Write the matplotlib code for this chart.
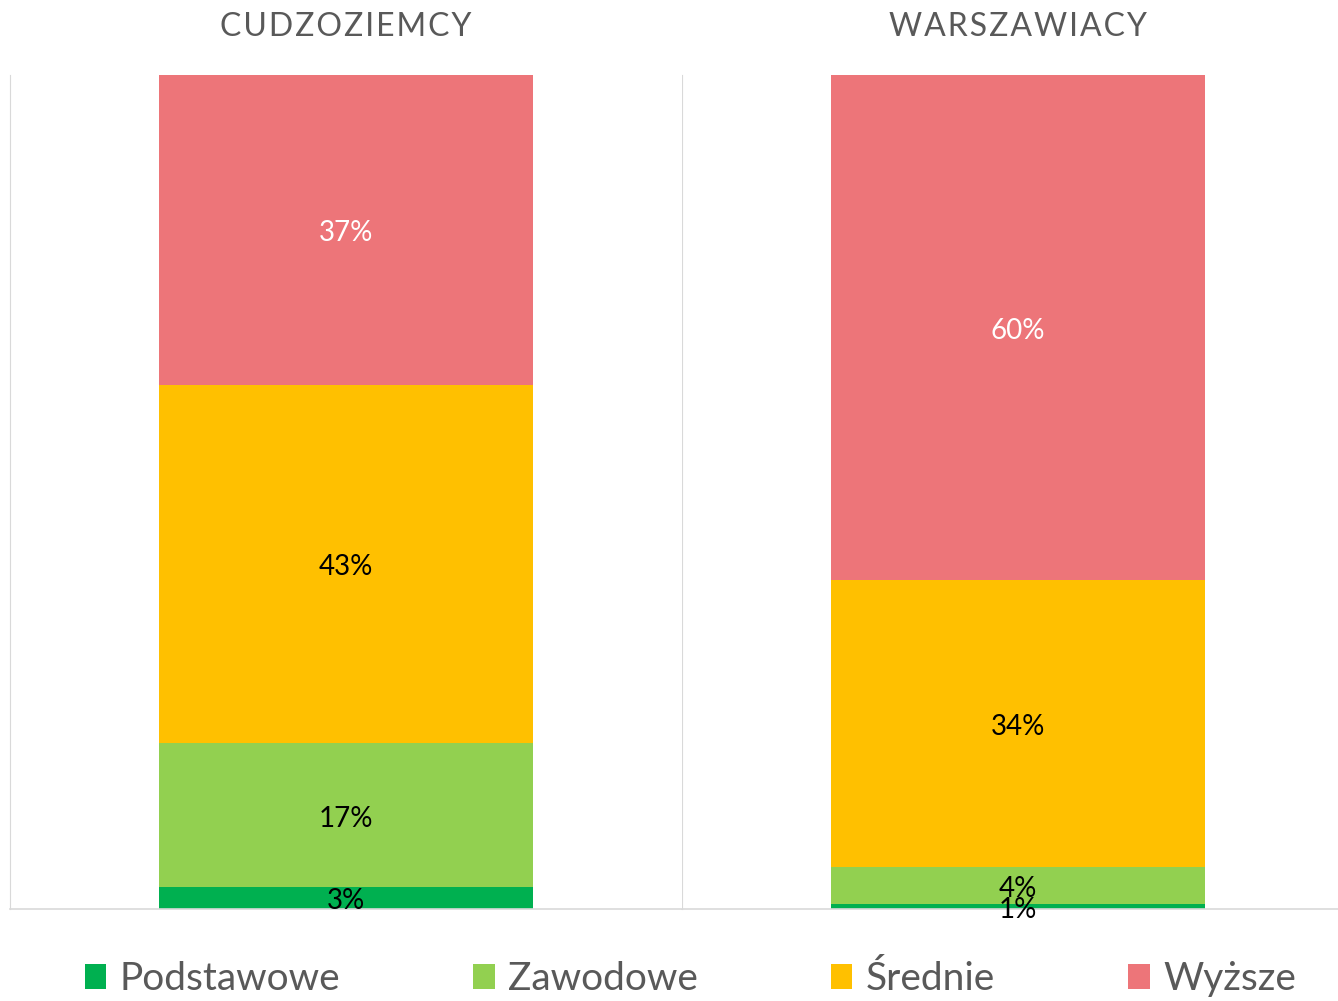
import numpy as np
import matplotlib.pyplot as plt

plt.rcParams['font.family'] = ['Lato', 'DejaVu Sans']

# dane
grupy = ['CUDZOZIEMCY', 'WARSZAWIACY']
poziomy = ['Podstawowe', 'Zawodowe', 'Średnie', 'Wyższe']
kolory = ['#00B050', '#92D050', '#FFC000', '#ED7579']
cudzoziemcy = [2.6, 17.3, 42.9, 37.2]
warszawiacy = [0.6, 4.4, 34.4, 60.4]
dane = [cudzoziemcy, warszawiacy]

fig = plt.figure(figsize=(13.38, 10.01), dpi=100)
W, H = 1338, 1001
szer_px = 672
lewe = [10, 682]
gora, dol = 75, 909

for i, (grupa, wartosci) in enumerate(zip(grupy, dane)):
    ax = fig.add_axes([lewe[i] / W, 1 - dol / H, szer_px / W, (dol - gora) / H])
    suma = sum(wartosci)
    spod = 0
    for j, (v, kol) in enumerate(zip(wartosci, kolory)):
        ax.bar(0, v, width=0.558, bottom=spod, color=kol, label=poziomy[j] if i == 0 else None)
        kolor_txt = 'white' if j == 3 else 'black'
        ax.text(0, spod + v / 2 - suma * 0.004, f"{v:.0f}%", ha='center', va='center',
                fontsize=20, color=kolor_txt)
        spod += v
    ax.set_xlim(-0.5, 0.5)
    ax.set_ylim(0, suma)
    ax.set_xticks([])
    ax.set_yticks([])
    for s in ['top', 'right']:
        ax.spines[s].set_visible(False)
    ax.spines['left'].set_color('#D9D9D9')
    ax.spines['bottom'].set_color('#D9D9D9')
    ax.spines['bottom'].set_linewidth(1.2)
    ax.set_zorder(-i)
    # tytul z rozstrzelonymi literami
    fig.text((lewe[i] + 0.5 * szer_px) / W, 1 - 27 / H, '\u200a'.join(grupa),
             ha='center', va='center', fontsize=23, color='#595959')

fig.legend(loc='center', bbox_to_anchor=(0.516, 1 - 979 / H), ncol=4, frameon=False,
           fontsize=28, labelcolor='#595959', handlelength=0.55, handleheight=0.6,
           handletextpad=0.35, columnspacing=3.42)

fig.savefig('out.png', dpi=100)
